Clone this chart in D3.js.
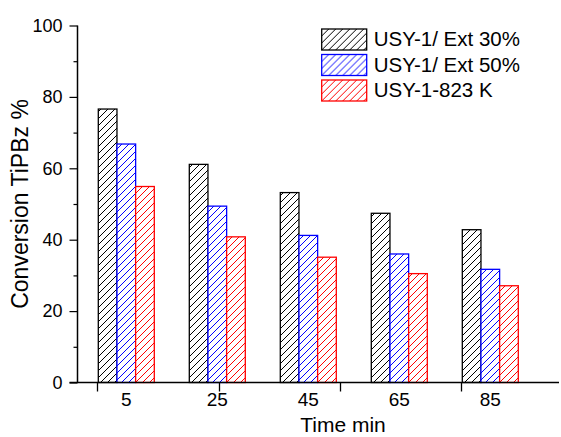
<!DOCTYPE html>
<html>
<head>
<meta charset="utf-8">
<script src="https://cdn.jsdelivr.net/npm/d3@7"></script>
<style>
  body { margin: 0; background: #fff; }
  text { font-family: "Liberation Sans", Arial, sans-serif; fill: #000; }
</style>
</head>
<body>
<svg></svg>
<script>
// data
var times = ["5", "25", "45", "65", "85"];
var seriesNames = ["USY-1/ Ext 30%", "USY-1/ Ext 50%", "USY-1-823 K"];
var ext30 = [76.6, 61.1, 53.2, 47.4, 42.8];
var ext50 = [66.8, 49.4, 41.2, 36.0, 31.7];
var k823 = [54.9, 40.8, 35.1, 30.5, 27.1];
var yTicks = [0, 20, 40, 60, 80, 100];
var yMinor = [10, 30, 50, 70, 90];
var colors = ["#000000", "#0000ff", "#ff0000"];

var allSeries = [ext30, ext50, k823];

var svg = d3.select("svg")
            .attr("width", 561)
            .attr("height", 437);

var margins = {left: 77.5, right: 559, top: 25.5, bottom: 382.5};

var yScale = d3.scaleLinear()
               .domain([0, 100])
               .range([margins.bottom, margins.top]);

// group start positions
var xLin = d3.scaleLinear()
             .domain([0, times.length - 1])
             .range([98.3, 462.3]);

var groupWidth = 56;
var xInner = d3.scaleBand()
               .domain(d3.range(seriesNames.length))
               .range([0, groupWidth]);

// hatch patterns
var defs = svg.append("defs");
colors.forEach(function(c, i) {
  var p = defs.append("pattern")
              .attr("id", "hatch" + i)
              .attr("patternUnits", "userSpaceOnUse")
              .attr("width", 7)
              .attr("height", 7);
  p.append("rect").attr("width", 7).attr("height", 7).attr("fill", "#fff");
  p.append("path")
   .attr("d", "M-1,1 l2,-2 M0,7 l7,-7 M6,8 l2,-2")
   .attr("stroke", c)
   .attr("stroke-width", 1);
});

// bars
var barData = [];
allSeries.forEach(function(vals, s) {
  vals.forEach(function(v, i) {
    barData.push({s: s, i: i, v: v});
  });
});

svg.selectAll("rect.bar")
   .data(barData)
   .enter()
   .append("rect")
   .attr("class", "bar")
   .attr("x", function(d) { return xLin(d.i) + xInner(d.s); })
   .attr("y", function(d) { return yScale(d.v); })
   .attr("width", xInner.bandwidth())
   .attr("height", function(d) { return yScale(0) - yScale(d.v); })
   .attr("fill", function(d) { return "url(#hatch" + d.s + ")"; })
   .attr("stroke", function(d) { return colors[d.s]; })
   .attr("stroke-width", 1.3);

// y axis
var yAxis = d3.axisLeft(yScale)
              .tickValues(yTicks)
              .tickSize(8)
              .tickPadding(7);
var gy = svg.append("g")
            .attr("transform", "translate(" + margins.left + ",0)")
            .call(yAxis);
gy.select(".domain").remove();
gy.selectAll("text").style("font-size", "18px");
gy.selectAll("line").attr("stroke", "#000").attr("stroke-width", 1.2);

var gyMinor = svg.append("g")
                 .attr("transform", "translate(" + margins.left + ",0)")
                 .call(d3.axisLeft(yScale).tickValues(yMinor).tickSize(4).tickFormat(""));
gyMinor.select(".domain").remove();
gyMinor.selectAll("line").attr("stroke", "#000").attr("stroke-width", 1.2);

// axis lines
svg.append("rect")
   .attr("x", margins.left - 0.75)
   .attr("y", yScale(100))
   .attr("width", 1.5)
   .attr("height", yScale(0) - yScale(100))
   .attr("fill", "#000");

svg.append("rect")
   .attr("x", margins.left - 8)
   .attr("y", yScale(0) - 0.75)
   .attr("width", margins.right - margins.left + 8)
   .attr("height", 1.5)
   .attr("fill", "#000");

var xTickVals = d3.range(0, times.length - 1 + 0.01, (times.length - 1) / 3);
svg.selectAll("line.xtick")
   .data(xTickVals)
   .enter()
   .append("line")
   .attr("class", "xtick")
   .attr("x1", function(d) { return Math.round(xLin(d)) - 0.5; })
   .attr("x2", function(d) { return Math.round(xLin(d)) - 0.5; })
   .attr("y1", yScale(0))
   .attr("y2", yScale(0) + 9)
   .attr("stroke", "#000")
   .attr("stroke-width", 1.3);

svg.selectAll("text.xlab")
   .data(times)
   .enter()
   .append("text")
   .attr("class", "xlab")
   .attr("x", function(d, i) { return xLin(i) + groupWidth / 2; })
   .attr("y", 406)
   .attr("text-anchor", "middle")
   .style("font-size", "19px")
   .text(function(d) { return d; });

// axis titles
svg.append("text")
   .attr("x", 343)
   .attr("y", 432)
   .attr("text-anchor", "middle")
   .style("font-size", "21px")
   .text("Time min");

svg.append("text")
   .attr("transform", "translate(28,204) rotate(-90)")
   .attr("text-anchor", "middle")
   .style("font-size", "23px")
   .text("Conversion TiPBz %");

// legend
var legend = svg.selectAll("g.legend")
                .data(seriesNames)
                .enter()
                .append("g")
                .attr("class", "legend")
                .attr("transform", function(d, i) {
                  return "translate(321.7," + (29 + i * 25.5) + ")"; });

legend.append("rect")
      .attr("width", 45)
      .attr("height", 21)
      .attr("fill", function(d, i) { return "url(#hatch" + i + ")"; })
      .attr("stroke", function(d, i) { return colors[i]; })
      .attr("stroke-width", 1.3);

legend.append("text")
      .attr("x", 52)
      .attr("y", 17)
      .style("font-size", "20.5px")
      .text(function(d) { return d; });
</script>
</body>
</html>
